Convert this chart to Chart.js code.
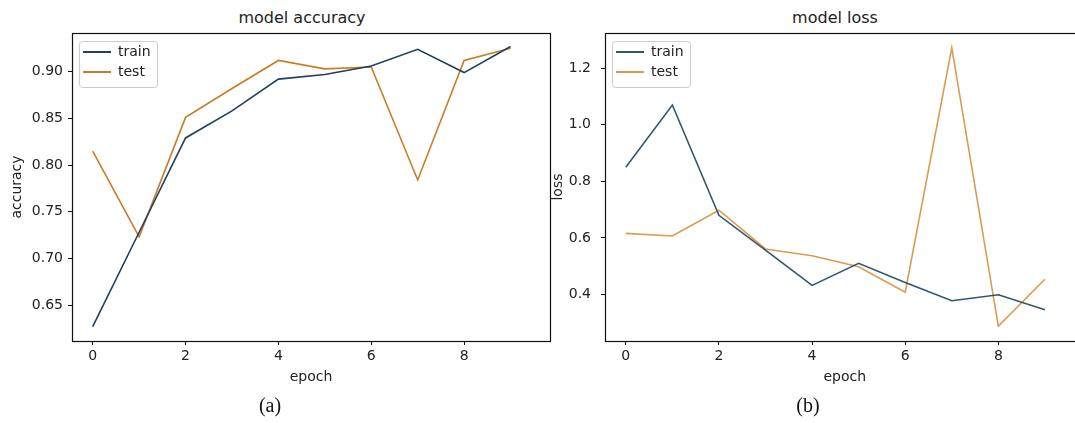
<!DOCTYPE html>
<html>
<head>
<meta charset="utf-8">
<script src="https://cdn.jsdelivr.net/npm/chart.js@4"></script>
<style>
    body { margin: 0; width: 1075px; height: 423px; overflow: hidden; background: #fff; position: relative; font-family: "DejaVu Sans", sans-serif; }
    .box { position: absolute; }
    .title { position: absolute; width: 300px; text-align: center; font-size: 16px; line-height: 20px; color: #222; }
    .caption { position: absolute; width: 100px; text-align: center; font-family: "Liberation Serif", serif; font-size: 20px; line-height: 24px; color: #111; }
</style>
</head>
<body>
<div class="title" style="left:152px; top:8px;">model accuracy</div>
<div class="title" style="left:685px; top:8px;">model loss</div>
<div class="box" style="left:0; top:25px; width:560px; height:370px;"><canvas id="accChart"></canvas></div>
<div class="box" style="left:545px; top:25px; width:545px; height:370px;"><canvas id="lossChart"></canvas></div>
<div class="caption" style="left:220px; top:393px;">(a)</div>
<div class="caption" style="left:758px; top:393px;">(b)</div>
<script>
const epochs = [0, 1, 2, 3, 4, 5, 6, 7, 8, 9];
const accTrain = [0.627, 0.728, 0.829, 0.858, 0.892, 0.897, 0.906, 0.924, 0.899, 0.927];
const accTest = [0.815, 0.723, 0.851, 0.882, 0.912, 0.903, 0.905, 0.784, 0.912, 0.925];
const lossTrain = [0.850, 1.070, 0.680, 0.557, 0.432, 0.510, 0.442, 0.378, 0.399, 0.346];
const lossTest = [0.616, 0.607, 0.698, 0.561, 0.537, 0.498, 0.408, 1.272, 0.288, 0.454];
const xTicks = [0, 2, 4, 6, 8];
const accTicks = [0.65, 0.70, 0.75, 0.80, 0.85, 0.90];
const lossTicks = [0.4, 0.6, 0.8, 1.0, 1.2];

const FONT = "DejaVu Sans";
const TEXT = "#222";

// put the legend inside the axes, top left, like matplotlib
const legendPlace = {
    id: "legendPlace",
    afterLayout(chart) {
        const lg = chart.legend;
        const a = chart.chartArea;
        const h = lg.height;
        lg.left = a.left + 5;
        lg.top = a.top + 6;
        lg.right = lg.left + lg.width;
        lg.bottom = lg.top + h;
    }
};

// frame round the plot (matplotlib spines) + legend box
const framePlugin = {
    id: "frame",
    afterDraw(chart) {
        const { ctx, chartArea: a } = chart;
        ctx.save();
        ctx.strokeStyle = "#111";
        ctx.lineWidth = 1.2;
        ctx.strokeRect(Math.round(a.left) + 0.5, Math.round(a.top) + 0.5, Math.round(a.right - a.left), Math.round(a.bottom - a.top));
        const boxes = chart.legend.legendHitBoxes;
        if (boxes && boxes.length) {
            const l = Math.min(...boxes.map(b => b.left)) - 4;
            const t = Math.min(...boxes.map(b => b.top)) - 4;
            const r = Math.max(...boxes.map(b => b.left + b.width)) + 6;
            const btm = Math.max(...boxes.map(b => b.top + b.height)) + 8;
            ctx.strokeStyle = "#ccc";
            ctx.lineWidth = 1;
            ctx.beginPath();
            ctx.roundRect(Math.round(l) + 0.5, Math.round(t) + 0.5, Math.round(r - l), Math.round(btm - t), 3);
            ctx.stroke();
        }
        ctx.restore();
    }
};

function pts(ys) {
    return epochs.map((e, i) => ({ x: e, y: ys[i] }));
}

function makeChart(id, opts) {
    const ctx = document.getElementById(id).getContext("2d");
    return new Chart(ctx, {
        type: "line",
        data: {
            datasets: [
                {
                    label: "train",
                    data: pts(opts.train),
                    borderColor: opts.trainColor,
                    backgroundColor: opts.trainColor,
                    borderWidth: 1.6,
                    pointRadius: 0,
                    tension: 0
                },
                {
                    label: "test",
                    data: pts(opts.test),
                    borderColor: opts.testColor,
                    backgroundColor: opts.testColor,
                    borderWidth: 1.6,
                    pointRadius: 0,
                    tension: 0
                }
            ]
        },
        options: {
            responsive: true,
            maintainAspectRatio: false,
            animation: false,
            layout: { padding: { top: 8, right: opts.padRight, bottom: 0, left: 0 } },
            scales: {
                x: {
                    type: "linear",
                    min: -0.446,
                    max: 9.85,
                    afterBuildTicks: s => { s.ticks = xTicks.map(v => ({ value: v })); },
                    afterFit: s => { s.height = 54; s.paddingLeft = 0; s.paddingRight = 0; },
                    grid: { drawOnChartArea: false, tickLength: 4, color: "#111" },
                    border: { display: false },
                    ticks: { color: TEXT, font: { family: FONT, size: 14 }, padding: 3, maxRotation: 0 },
                    title: { display: true, text: "epoch", color: TEXT, font: { family: FONT, size: 14 }, padding: { top: 0, bottom: 9.6 } }
                },
                y: {
                    type: "linear",
                    min: opts.yMin,
                    max: opts.yMax,
                    afterBuildTicks: s => { s.ticks = opts.yTicks.map(v => ({ value: v })); },
                    afterFit: s => { s.width = opts.yWidth; s.paddingTop = 0; s.paddingBottom = 0; },
                    grid: { drawOnChartArea: false, tickLength: 4, color: "#111" },
                    border: { display: false },
                    ticks: { color: TEXT, font: { family: FONT, size: 14 }, padding: opts.tickPad, callback: v => v.toFixed(opts.digits) },
                    title: { display: true, text: opts.yLabel, color: TEXT, font: { family: FONT, size: 14 }, padding: { top: opts.titlePad, bottom: 0 } }
                }
            },
            plugins: {
                legend: {
                    position: "chartArea",
                    align: "start",
                    labels: {
                        usePointStyle: true,
                        pointStyle: "line",
                        pointStyleWidth: 28,
                        boxHeight: 14,
                        padding: 6,
                        color: TEXT,
                        font: { family: FONT, size: 14 },
                        generateLabels: chart =>
                            Chart.defaults.plugins.legend.labels.generateLabels(chart).map(l => ({ ...l, lineWidth: 2.2 }))
                    }
                },
                tooltip: { enabled: false }
            }
        },
        plugins: [legendPlace, framePlugin]
    });
}

makeChart("accChart", {
    train: accTrain, test: accTest,
    trainColor: "#213f5e", testColor: "#c97b26",
    yMin: 0.6115, yMax: 0.9414, yTicks: accTicks, digits: 2,
    yLabel: "accuracy", yWidth: 72, tickPad: 5, titlePad: 8.6, padRight: 10
});
makeChart("lossChart", {
    train: lossTrain, test: lossTest,
    trainColor: "#34566b", testColor: "#d99c55",
    yMin: 0.2355, yMax: 1.3245, yTicks: lossTicks, digits: 1,
    yLabel: "loss", yWidth: 60, tickPad: 10, titlePad: 4.6, padRight: 5.5
});
</script>
</body>
</html>
